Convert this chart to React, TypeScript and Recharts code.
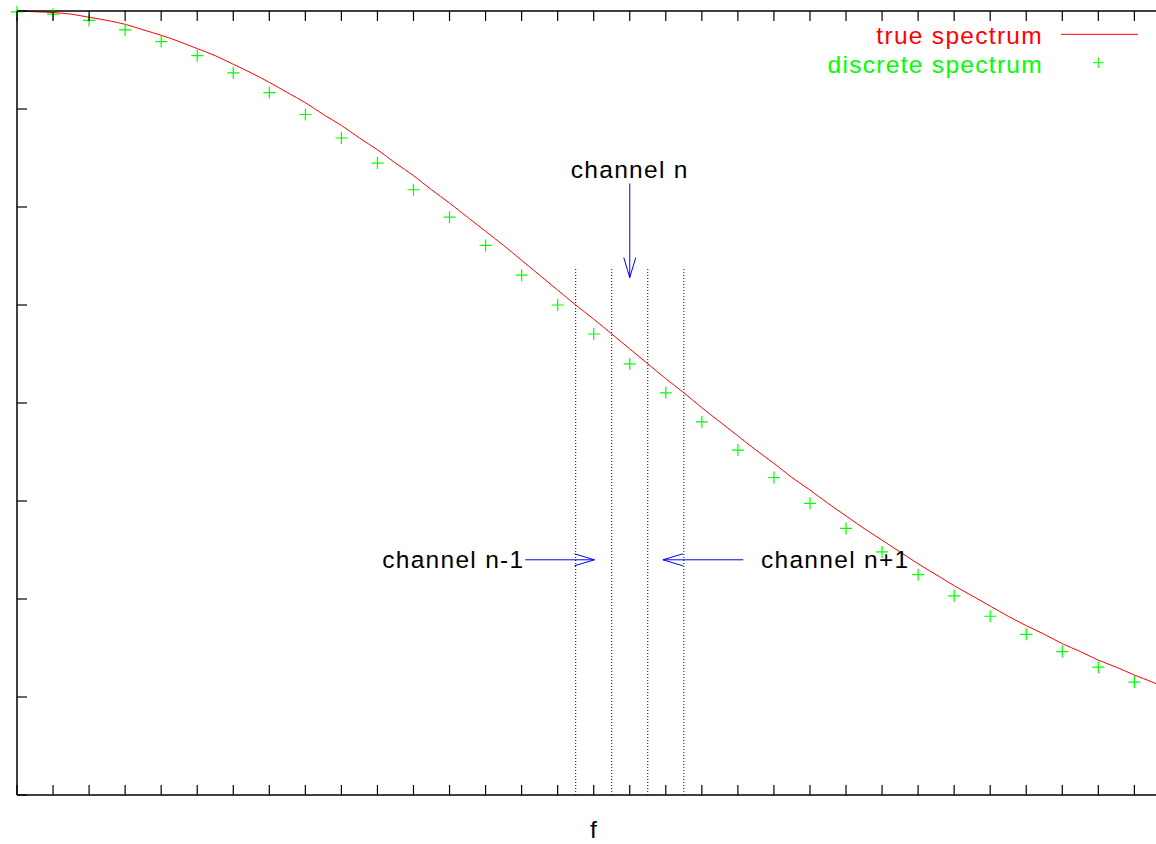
import React from 'react';
import { ComposedChart, Line, XAxis, YAxis, ReferenceLine, ReferenceDot, Legend } from 'recharts';

// ---- data ----
const curveF = [
  0, 0.5, 1, 1.5, 2, 2.5, 3, 3.5, 4, 4.5, 5, 5.5, 6, 6.5, 7, 7.5, 8, 8.5, 9, 9.5,
  10, 10.5, 11, 11.5, 12, 12.5, 13, 13.5, 14, 14.5, 15, 15.5, 16, 16.5, 17, 17.5,
  18, 18.5, 19, 19.5, 20, 20.5, 21, 21.5, 22, 22.5, 23, 23.5, 24, 24.5, 25, 25.5,
  26, 26.5, 27, 27.5, 28, 28.5, 29, 29.5, 30, 30.5, 31, 31.5, 31.6,
];
const curveValues = [
  1.0, 0.999, 0.998, 0.996, 0.992, 0.988, 0.983, 0.976, 0.969, 0.961, 0.952, 0.943,
  0.932, 0.921, 0.909, 0.896, 0.883, 0.868, 0.854, 0.838, 0.823, 0.806, 0.79, 0.772,
  0.755, 0.737, 0.719, 0.701, 0.682, 0.663, 0.644, 0.625, 0.607, 0.588, 0.569, 0.55,
  0.531, 0.513, 0.494, 0.476, 0.458, 0.44, 0.423, 0.405, 0.389, 0.372, 0.356, 0.34,
  0.325, 0.31, 0.295, 0.281, 0.267, 0.254, 0.241, 0.228, 0.216, 0.205, 0.193, 0.183,
  0.172, 0.163, 0.153, 0.144, 0.142,
];
const discreteF = [
  0, 1, 2, 3, 4, 5, 6, 7, 8, 9, 10, 11, 12, 13, 14, 15, 16, 17, 18, 19, 20, 21, 22,
  23, 24, 25, 26, 27, 28, 29, 30, 31,
];
const discreteValues = [
  0.999, 0.996, 0.988, 0.976, 0.961, 0.943, 0.921, 0.896, 0.868, 0.838, 0.806, 0.772,
  0.737, 0.701, 0.663, 0.625, 0.588, 0.55, 0.513, 0.476, 0.44, 0.405, 0.372, 0.34,
  0.31, 0.281, 0.254, 0.228, 0.205, 0.183, 0.163, 0.144,
];
const xTicks = [
  0, 1, 2, 3, 4, 5, 6, 7, 8, 9, 10, 11, 12, 13, 14, 15, 16, 17, 18, 19, 20, 21, 22,
  23, 24, 25, 26, 27, 28, 29, 30, 31,
];
const yTicks = [0, 0.125, 0.25, 0.375, 0.5, 0.625, 0.75, 0.875, 1];
const xDomain = [0, 31.6];
const yDomain = [0, 1];

const seriesNames = ['true spectrum', 'discrete spectrum'];
const seriesColors = ['#ff0000', '#00ff00'];

// channel boundaries (dotted)
const channelEdges = [15.5, 16.5, 17.5, 18.5];
const channelEdgeTop = 0.672;

// arrows
const arrowX1 = [17, 14.1, 20.15];
const arrowY1 = [0.78, 0.3, 0.3];
const arrowX2 = [17, 16.02, 17.92];
const arrowY2 = [0.66, 0.3, 0.3];

// annotation labels
const labelTexts = ['channel n', 'channel n-1', 'channel n+1'];
const labelX = [17.0, 14.08, 20.64];
const labelY = [0.787, 0.29, 0.29];
const labelAnchor = ['middle', 'end', 'start'];

const xLabel = 'f';

// ---- built tables ----
const curveData = curveF.map((f, i) => ({ x: f, y: curveValues[i] }));
const discreteData = discreteF.map((f, i) => ({ x: f, y: discreteValues[i] }));

const FONT = '"Liberation Sans", Arial, Helvetica, sans-serif';
const FONT_SIZE = 24.5;
const LETTER_SPACING = 1.3;
const TICK_LEN = 10;

const renderPlus = (props: any) => {
  const { cx, cy, index } = props;
  if (cx == null || cy == null) return <g key={`pe-${index}`} />;
  return (
    <path
      key={`p-${index}`}
      d={`M${cx - 6},${cy}h12M${cx},${cy - 6}v12`}
      stroke={seriesColors[1]}
      strokeWidth={1.2}
      fill="none"
    />
  );
};

// inward tick marks (gnuplot style)
const BottomTick = (p: any) => (
  <line x1={p.x} y1={p.y} x2={p.x} y2={p.y - TICK_LEN} stroke="#000" strokeWidth={1.2} />
);
const TopTick = (p: any) => (
  <line x1={p.x} y1={p.y} x2={p.x} y2={p.y + TICK_LEN} stroke="#000" strokeWidth={1.2} />
);
const LeftTick = (p: any) => (
  <line x1={p.x} y1={p.y} x2={p.x + TICK_LEN} y2={p.y} stroke="#000" strokeWidth={1.2} />
);

const ArrowShape = (p: any) => {
  const { x1, y1, x2, y2 } = p;
  const dx = x2 - x1;
  const dy = y2 - y1;
  const len = Math.hypot(dx, dy) || 1;
  const ux = dx / len;
  const uy = dy / len;
  const hl = 20;
  const hw = 6;
  const bx = x2 - ux * hl;
  const by = y2 - uy * hl;
  const px = -uy;
  const py = ux;
  return (
    <g>
      <line x1={x1} y1={y1} x2={x2} y2={y2} stroke="#0000ff" strokeWidth={1} />
      <path
        d={`M${bx + px * hw},${by + py * hw}L${x2},${y2}L${bx - px * hw},${by - py * hw}`}
        fill="none"
        stroke="#0000ff"
        strokeWidth={1}
      />
    </g>
  );
};

const makeTextShape = (i: number) => (p: any) => (
  <text
    x={p.cx}
    y={p.cy}
    textAnchor={labelAnchor[i] as any}
    fontFamily={FONT}
    fontSize={FONT_SIZE}
    letterSpacing={LETTER_SPACING}
    fill="#000"
  >
    {labelTexts[i]}
  </text>
);

const renderLegend = (props: any) => {
  const payload = props.payload || [];
  return (
    <svg width={1156} height={90} style={{ display: 'block', overflow: 'visible' }}>
      {seriesNames.map((name, i) => {
        const entry = payload.find((e: any) => e.value === name);
        if (!entry) return null;
        const baseY = 44 + i * 28.7;
        const color = seriesColors[i];
        return (
          <g key={`lg-${i}`}>
            <text
              x={1043}
              y={baseY}
              textAnchor="end"
              fontFamily={FONT}
              fontSize={FONT_SIZE}
              letterSpacing={LETTER_SPACING}
              fill={color}
            >
              {entry.value}
            </text>
            {i === 0 ? (
              <line x1={1061} y1={baseY - 9.7} x2={1138} y2={baseY - 9.7} stroke={color} strokeWidth={1} />
            ) : (
              <path
                d={`M${1093},${baseY - 10}h10.6M${1098.3},${baseY - 15.3}v10.6`}
                stroke={color}
                strokeWidth={1}
                fill="none"
              />
            )}
          </g>
        );
      })}
    </svg>
  );
};

export default function App() {
  return (
    <div
      style={{
        position: 'absolute',
        left: 0,
        top: 0,
        width: 1156,
        height: 844,
        background: '#fff',
        overflow: 'hidden',
      }}
    >
      <ComposedChart
        width={1156}
        height={844}
        margin={{ top: 0, right: 0, bottom: 9, left: 16 }}
        style={{ fontFamily: FONT }}
      >
        <XAxis
          xAxisId={0}
          type="number"
          dataKey="x"
          domain={xDomain}
          ticks={xTicks}
          interval={0}
          orientation="bottom"
          height={40}
          tick={BottomTick}
          tickSize={0}
          tickMargin={0}
          tickLine={false}
          axisLine={{ stroke: '#000', strokeWidth: 1.5 }}
          label={{
            value: xLabel,
            position: 'insideBottom',
            offset: -3,
            dx: 7,
            fontSize: FONT_SIZE,
            fill: '#000',
            fontFamily: FONT,
          }}
        />
        <XAxis
          xAxisId="top"
          type="number"
          dataKey="x"
          domain={xDomain}
          ticks={xTicks}
          interval={0}
          orientation="top"
          height={11}
          tick={TopTick}
          tickSize={0}
          tickMargin={0}
          tickLine={false}
          axisLine={{ stroke: '#000', strokeWidth: 1.5 }}
        />
        <YAxis
          type="number"
          domain={yDomain}
          ticks={yTicks}
          interval={0}
          width={1}
          tick={LeftTick}
          tickSize={0}
          tickMargin={0}
          tickLine={false}
          axisLine={{ stroke: '#000', strokeWidth: 1.5 }}
        />
        <Legend
          layout="horizontal"
          verticalAlign="middle"
          align="center"
          content={renderLegend}
          wrapperStyle={{ left: 0, top: 0, width: 1156, height: 90, margin: 0, padding: 0 }}
        />
        {channelEdges.map((e, i) => (
          <ReferenceLine
            key={`edge-${i}`}
            segment={[
              { x: e, y: 0 },
              { x: e, y: channelEdgeTop },
            ]}
            stroke="#000"
            strokeWidth={1}
            strokeDasharray="1 2"
          />
        ))}
        <Line
          data={curveData}
          dataKey="y"
          name={seriesNames[0]}
          type="monotone"
          stroke={seriesColors[0]}
          strokeWidth={1}
          dot={false}
          activeDot={false}
          isAnimationActive={false}
        />
        <Line
          xAxisId="top"
          data={discreteData}
          dataKey="y"
          name={seriesNames[1]}
          type="linear"
          stroke="none"
          dot={renderPlus}
          activeDot={false}
          isAnimationActive={false}
        />
        {arrowX1.map((x1, i) => (
          <ReferenceLine
            key={`arrow-${i}`}
            segment={[
              { x: x1, y: arrowY1[i] },
              { x: arrowX2[i], y: arrowY2[i] },
            ]}
            shape={ArrowShape}
          />
        ))}
        {labelTexts.map((t, i) => (
          <ReferenceDot key={`lbl-${i}`} x={labelX[i]} y={labelY[i]} r={0} shape={makeTextShape(i)} />
        ))}
      </ComposedChart>
    </div>
  );
}
